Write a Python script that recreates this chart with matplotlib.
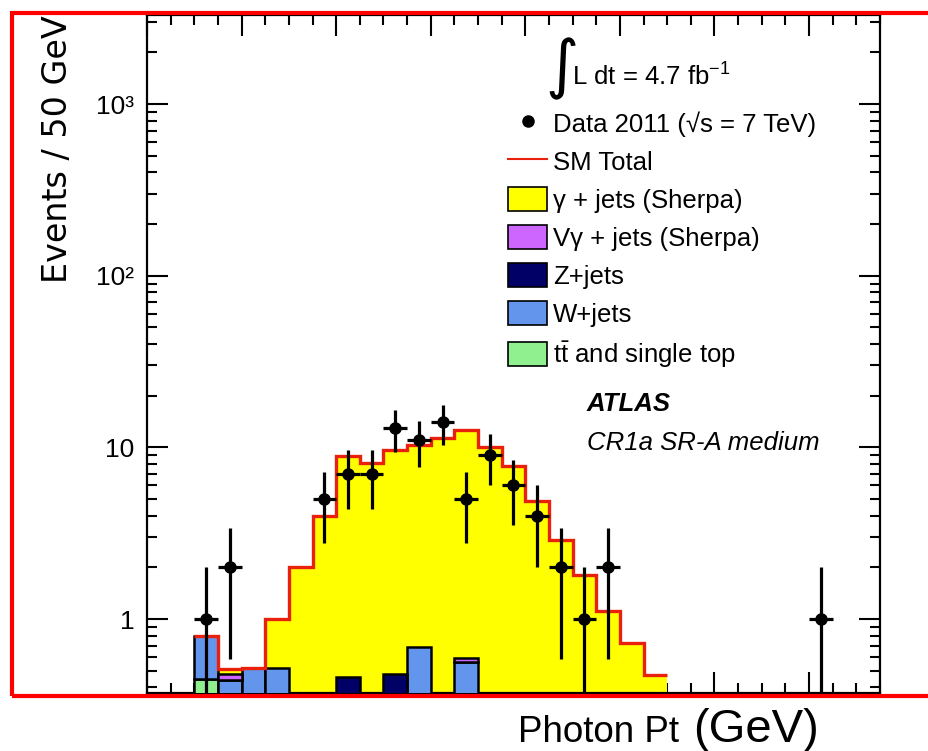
# Photon pT control region plot (ATLAS CR1a SR-A medium)
import numpy as np
import matplotlib.pyplot as plt
from matplotlib.patches import Patch, Rectangle
from matplotlib.lines import Line2D
from matplotlib.ticker import FixedLocator, MultipleLocator, LogLocator, NullFormatter

plt.rcParams['font.family'] = ['Liberation Sans', 'DejaVu Sans']
plt.rcParams['mathtext.fontset'] = 'custom'
plt.rcParams['mathtext.rm'] = 'Liberation Sans'

# 50 GeV bins, 0 - 1550 GeV
bin_edges = np.arange(0, 1551, 50)

# stacked backgrounds, events / 50 GeV, 31 bins
ttbar  = [0, 0, 0.45, 0, 0, 0, 0, 0, 0, 0, 0, 0, 0, 0, 0, 0,
          0, 0, 0, 0, 0, 0, 0, 0, 0, 0, 0, 0, 0, 0, 0]
wjets  = [0, 0, 0.35, 0.44, 0.52, 0.52, 0, 0, 0, 0, 0, 0.69, 0, 0.56, 0, 0,
          0, 0, 0, 0, 0, 0, 0, 0, 0, 0, 0, 0, 0, 0, 0]
zjets  = [0, 0, 0, 0, 0, 0, 0, 0, 0.46, 0, 0.48, 0, 0, 0, 0, 0,
          0, 0, 0, 0, 0, 0, 0, 0, 0, 0, 0, 0, 0, 0, 0]
vgamma = [0, 0, 0, 0.04, 0, 0, 0, 0, 0, 0, 0, 0, 0, 0.03, 0, 0,
          0, 0, 0, 0, 0, 0, 0, 0, 0, 0, 0, 0, 0, 0, 0]
gamma  = [0, 0, 0, 0.03, 0, 0.48, 2.0, 4.0, 8.44, 8.1, 9.12, 9.61, 11.4, 12.11, 10.1, 7.8,
          4.9, 2.9, 1.8, 1.12, 0.73, 0.47, 0, 0, 0, 0, 0, 0, 0, 0, 0]

# data 2011
data = [0, 0, 1, 2, 0, 0, 0, 5, 7, 7, 13, 11, 14, 5, 9, 6,
        4, 2, 1, 2, 0, 0, 0, 0, 0, 0, 0, 0, 1, 0, 0]

labels = ['γ + jets (Sherpa)', 'Vγ + jets (Sherpa)', 'Z+jets', 'W+jets',
          r'$\mathrm{t\bar{t}}$ and single top']
colors = {'tt': '#90f090', 'w': '#6495ed', 'z': '#000066', 'vg': '#cc66ff', 'g': '#ffff00'}
sm_red = '#e8200c'

W, H = 929, 751
def px(x, y):
    return x / W, 1 - y / H

fig = plt.figure(figsize=(W / 100, H / 100), dpi=100)
ax = fig.add_axes([147 / W, 1 - 693 / H, (880 - 147) / W, (693 - 15) / H])

left = bin_edges[:-1]
centers = (bin_edges[:-1] + bin_edges[1:]) / 2
bottom = np.zeros(len(left))
stack = [(ttbar, colors['tt'], 'black', 3), (wjets, colors['w'], 'black', 3),
         (zjets, colors['z'], 'black', 3), (vgamma, colors['vg'], 'black', 3),
         (gamma, colors['g'], 'none', 2)]
for vals, fc, ec, z in stack:
    vals = np.asarray(vals, dtype=float)
    m = vals > 0
    ax.bar(left[m], vals[m], width=50, bottom=bottom[m], align='edge',
           color=fc, edgecolor=ec, linewidth=1.8, zorder=z)
    bottom += vals

# SM total outline
total = bottom
nz = np.nonzero(total)[0]
lo, hi = nz[0], nz[-1] + 1
ax.stairs(total[lo:hi], bin_edges[lo:hi + 1], baseline=None, color=sm_red, lw=2.4, zorder=4)

# data points
n = np.asarray(data, dtype=float)
m = n > 0
err = np.sqrt(n[m])
ax.errorbar(centers[m], n[m], yerr=[np.minimum(err, n[m] * 0.999), err], xerr=25,
            fmt='o', color='black', ms=8, elinewidth=2.3, capsize=0, zorder=5)

ax.set_yscale('log')
ax.set_xlim(0, 1550)
ax.set_ylim(0.371, 3300)
ax.yaxis.set_major_locator(FixedLocator([1, 10, 100, 1000]))
ax.set_yticklabels(['1', '10', '10²', '10³'])
ax.yaxis.set_minor_locator(LogLocator(base=10, subs=np.arange(2, 10)))
ax.yaxis.set_minor_formatter(NullFormatter())
ax.xaxis.set_major_locator(MultipleLocator(200))
ax.xaxis.set_minor_locator(MultipleLocator(50))
ax.tick_params(which='both', direction='in', top=True, right=True, labelbottom=False, width=1.5)
ax.tick_params(which='major', length=15, pad=9, labelsize=19)
ax.tick_params(which='minor', length=7)
for s in ax.spines.values():
    s.set_linewidth(1.6)

ax.set_ylabel('Events / 50 GeV', loc='top', fontsize=24, family='DejaVu Sans')
ax.yaxis.set_label_coords(-0.100, 1.0)

# legend
fs = 18.5
handles = [Line2D([], [], marker='o', color='black', ls='none', ms=8),
           Line2D([], [], color=sm_red, lw=1.5)]
handles += [Patch(facecolor=c, edgecolor='black', lw=1.2)
            for c in [colors['g'], colors['vg'], colors['z'], colors['w'], colors['tt']]]
leg_labels = ['Data 2011 (√s = 7 TeV)', 'SM Total'] + labels
ax.legend(handles, leg_labels, loc='upper left', bbox_to_anchor=px(508, 111),
          bbox_transform=fig.transFigure, frameon=False, fontsize=fs,
          handlelength=1.52, handleheight=1.05, handletextpad=0.23,
          labelspacing=0.48, borderpad=0, borderaxespad=0)

fig.text(*px(562, 69), '∫', fontsize=46, family='DejaVu Sans', ha='center', va='center')
fig.text(*px(572, 85), r'L dt = 4.7 fb$^{-1}$', fontsize=fs, va='baseline')
fig.text(*px(587, 411), 'ATLAS', fontsize=fs, weight='bold', style='italic', va='baseline')
fig.text(*px(587, 450), 'CR1a SR-A medium', fontsize=fs, style='italic', va='baseline')

# axis title below the cut-off frame
fig.text(*px(518, 742), 'Photon Pt', fontsize=26.5, family='Liberation Sans', va='baseline')
fig.text(*px(693, 742), '(GeV)', fontsize=34, family='Liberation Sans', va='baseline')

# red frame
fig.add_artist(Rectangle(px(12, 696), (945 - 12) / W, (696 - 13) / H, transform=fig.transFigure,
                         fill=False, edgecolor='#ff0000', lw=3, zorder=10))

fig.savefig('out.png', dpi=100)
